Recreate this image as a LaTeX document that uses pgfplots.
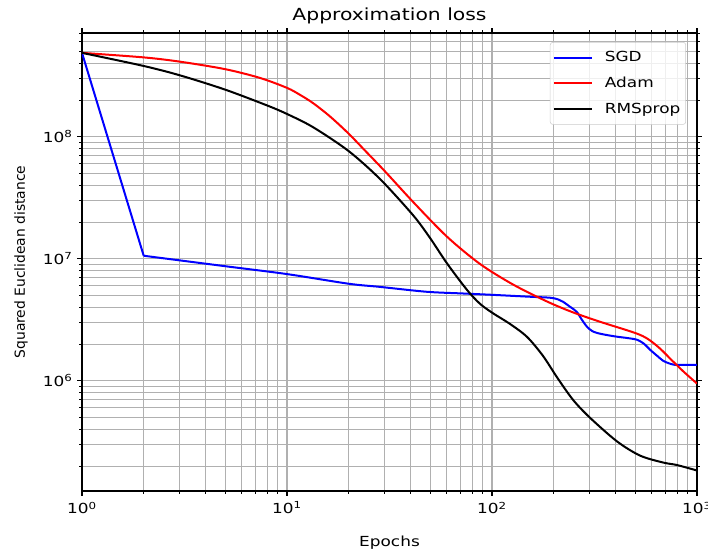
\documentclass[border=0pt]{standalone}
\usepackage{fontspec}
\setmainfont{DejaVu Sans}[FakeStretch=1.22]
\newfontfamily\plainfont{DejaVu Sans}
\usepackage{pgfplots}
\pgfplotsset{compat=1.18}
\definecolor{gridgray}{HTML}{B0B0B0}
\begin{document}
\begin{tikzpicture}
\useasboundingbox (-61.5pt,-47.25pt) rectangle (469.5pt,368.25pt);
\begin{axis}[
  at={(0,0)}, anchor=south west,
  scale only axis, width=461.25pt, height=343.5pt,
  xmode=log, ymode=log,
  xmin=1, xmax=1000, ymin=1.25e5, ymax=7.1e8,
  xtick={1,10,100,1000},
  xticklabels={10\textsuperscript{0},10\textsuperscript{1},10\textsuperscript{2},10\textsuperscript{3}},
  ytick={1e6,1e7,1e8},
  yticklabels={10\textsuperscript{6},10\textsuperscript{7},10\textsuperscript{8}},
  minor xtick={2,3,4,5,6,7,8,9,20,30,40,50,60,70,80,90,200,300,400,500,600,700,800,900},
  minor ytick={2e5,3e5,4e5,5e5,6e5,7e5,8e5,9e5,2e6,3e6,4e6,5e6,6e6,7e6,8e6,9e6,2e7,3e7,4e7,5e7,6e7,7e7,8e7,9e7,2e8,3e8,4e8,5e8,6e8,7e8},
  grid=both,
  major grid style={gridgray, line width=0.8pt},
  minor grid style={gridgray, line width=0.8pt},
  tick align=outside,
  major tick length=3.6pt, minor tick length=2.1pt,
  tick style={black, line width=0.8pt},
  axis line style={line width=0.8pt},
  ticklabel style={font=\fontsize{10.4}{12}\selectfont},
  xticklabel style={yshift=-1pt},
  every axis x label/.style={at={(axis description cs:0.5,-0.112)}, anchor=center, font=\fontsize{10.4}{12}\selectfont},
  every axis y label/.style={at={(axis description cs:-0.099,0.5)}, anchor=center, rotate=90, font=\plainfont\fontsize{10.4}{12}\selectfont},
  every axis title/.style={at={(axis description cs:0.5,1.037)}, anchor=center, font=\fontsize{12.5}{14}\selectfont},
  title={Approximation loss},
  xlabel={Epochs},
  ylabel={Squared Euclidean distance},
  legend cell align=left,
  legend style={at={(1,1)}, anchor=north east, xshift=-8.25pt, yshift=-6.75pt,
    draw=black!20, rounded corners=2pt, fill=white, fill opacity=0.8, text opacity=1,
    font=\fontsize{10.4}{12}\selectfont, row sep=5.9pt, inner xsep=2pt, inner ysep=5pt},
  legend image code/.code={\draw[#1] (0pt,0pt) -- (28.5pt,0pt); \path (35.5pt,0pt);},
  every axis plot/.append style={line width=1.5pt},
]
\addplot[blue, forget plot] coordinates {(1,4.88e8) (2,1.06e7)};
\addplot[blue, smooth] coordinates {
(2,1.06e7) (5,8.7e6) (10,7.5e6) (20,6.25e6) (28.4,5.89e6) (48,5.37e6)
(72,5.2e6) (100,5.07e6) (153,4.89e6) (192,4.8e6) (210,4.65e6) (222,4.45e6)
(240,4.05e6) (259,3.68e6) (275,3.15e6) (291,2.77e6) (307,2.57e6) (325,2.47e6)
(360,2.38e6) (407,2.3e6) (460,2.24e6) (510,2.17e6) (550,2.02e6) (590,1.8e6)
(640,1.6e6) (684,1.46e6) (740,1.38e6) (798,1.35e6) (1000,1.35e6)
};
\addlegendentry{SGD}
\addplot[red, smooth] coordinates {
(1,4.88e8) (2,4.48e8) (3.01,4.13e8) (4.985,3.59e8) (7.385,3.04e8) (10,2.52e8)
(11.57,2.21e8) (13.4,1.89e8) (16.21,1.47e8) (19.9,1.07e8) (24.02,7.72e7)
(30.1,5.20e7) (41.2,2.93e7) (60.3,1.52e7) (87.4,9.08e6) (126.6,6.16e6)
(185.5,4.47e6) (248.4,3.64e6) (336.4,3.05e6) (498.5,2.47e6) (576.8,2.20e6)
(659.9,1.84e6) (755.1,1.47e6) (864.5,1.18e6) (1000,9.5e5)
};
\addlegendentry{Adam}
\addplot[black, smooth] coordinates {
(1,4.88e8) (2,3.81e8) (3.01,3.19e8) (4.985,2.44e8) (7.99,1.81e8) (10,1.54e8)
(13.4,1.20e8) (19.9,7.69e7) (28.4,4.52e7) (41.2,2.28e7) (49.9,1.48e7)
(60.3,9.19e6) (75.5,5.57e6) (87.4,4.28e6) (101.1,3.58e6) (122.3,2.93e6)
(148.3,2.29e6) (177.4,1.60e6) (207.5,1.07e6) (248.4,6.99e5) (300.7,4.98e5)
(407,3.19e5) (527,2.44e5) (682.6,2.14e5) (798.7,2.04e5) (1000,1.84e5)
};
\addlegendentry{RMSprop}
\end{axis}
\end{tikzpicture}
\end{document}
